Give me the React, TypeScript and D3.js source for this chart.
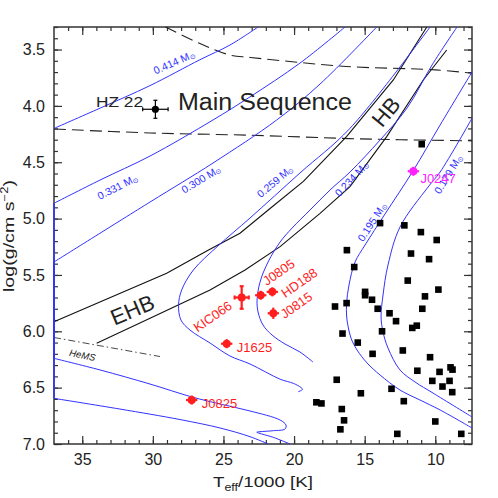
import React, { useEffect, useRef } from 'react';
import * as d3 from 'd3';

type Pt = [number, number];

// axis ranges, Teff/1000 runs backwards
const teffRange: [number, number] = [37, 7.4];
const loggRange: [number, number] = [3.3, 7.0];
const teffTicks = [35, 30, 25, 20, 15, 10];
const loggTicks = [3.5, 4.0, 4.5, 5.0, 5.5, 6.0, 6.5, 7.0];

// main sequence band borders (dashed)
const msTop: Pt[] = [[29.1, 3.3], [26.7, 3.445], [24.5, 3.55], [23.1, 3.57], [16.3, 3.65], [10.0, 3.68], [7.4, 3.71]];
const msBottom: Pt[] = [[37, 4.205], [30.2, 4.24], [23.2, 4.26], [16.1, 4.29], [12.5, 4.3], [7.4, 4.31]];

// zero-age and terminal-age horizontal branch
const zahb: Pt[] = [[37, 5.915], [29.02, 5.485], [26.09, 5.28], [23.83, 5.13], [21.7, 4.91], [19.34, 4.67], [16.27, 4.27], [12.97, 3.77], [10.6, 3.3]];
const tahb: Pt[] = [[33.98, 6.107], [30.2, 5.885], [25.95, 5.633], [23.47, 5.456], [20.99, 5.249], [18.16, 4.953], [16.04, 4.717], [13.44, 4.273], [10.85, 3.77], [9.19, 3.504]];
const heMainSeq: Pt[] = [[37, 6.055], [29.49, 6.224]];

// He-WD tracks, split into pieces where they run along the left border
const track414: Pt[][] = [
  [[37, 4.2], [33.74, 4.02], [30.2, 3.82], [26.66, 3.59], [24.54, 3.46], [22.55, 3.3]],
];
const track331: Pt[][] = [
  [[16.39, 3.3], [19.58, 3.62], [23.12, 3.92], [25.74, 4.125], [30.2, 4.445], [33.74, 4.658], [37, 4.864]],
  [[37, 4.864], [37, 6.595]],
  [[37, 6.595], [32.33, 6.69], [28.08, 6.783], [25.24, 6.858], [23.12, 6.935], [21.84, 7.0]],
];
const track300: Pt[][] = [
  [[14.15, 3.3], [18.16, 3.806], [21.23, 4.125], [25.74, 4.507], [30.2, 4.853], [37, 5.385]],
  [[37, 5.385], [37, 6.24]],
  [[37, 6.24], [33.74, 6.343], [30.2, 6.468], [27.23, 6.583], [25.24, 6.645], [23.12, 6.707], [20.99, 6.787],
    [20.57, 6.832], [20.64, 6.867], [21.47, 6.882], [22.41, 6.891], [22.64, 6.896], [22.29, 6.911], [21.47, 6.941], [20.29, 7.0]],
];
const track259: Pt[][] = [
  [[10.37, 3.3], [16.04, 4.199], [19.58, 4.595], [23.12, 4.995], [25.39, 5.243], [27.13, 5.456], [27.96, 5.634],
    [28.18, 5.767], [28.01, 5.9], [27.37, 5.989], [25.95, 6.104], [24.54, 6.219], [23.12, 6.29], [20.99, 6.425],
    [20.05, 6.462], [19.5, 6.5], [19.4, 6.515], [19.7, 6.536]],
];
const track234: Pt[][] = [
  [[8.46, 3.3], [10.23, 3.637], [12.0, 4.019], [13.91, 4.303], [16.04, 4.587], [17.45, 4.746], [18.87, 4.924],
    [20.14, 5.084], [20.99, 5.208], [21.84, 5.385], [22.41, 5.563], [22.62, 5.722], [22.55, 5.829], [22.2, 5.944],
    [21.56, 6.033], [20.64, 6.113], [19.58, 6.184], [18.66, 6.273]],
];
const track195: Pt[][] = [
  [[7.4, 3.699], [9.66, 4.17], [11.58, 4.578], [13.56, 4.959], [14.97, 5.234], [15.68, 5.385], [16.11, 5.589],
    [16.28, 5.749], [16.28, 5.864], [16.18, 5.953], [15.97, 6.06], [15.54, 6.166], [14.83, 6.281], [13.91, 6.388],
    [12.5, 6.521], [11.08, 6.61], [9.66, 6.698], [7.4, 6.858]],
];
const track179: Pt[][] = [
  [[7.4, 4.11], [9.66, 4.587], [10.51, 4.72], [12.5, 5.075], [13.35, 5.412], [13.7, 5.678], [13.84, 5.873],
    [13.7, 6.006], [13.35, 6.148], [12.5, 6.343], [11.43, 6.45], [10.16, 6.548], [7.4, 6.76]],
];
const tracks = [track414, track331, track300, track259, track234, track195, track179];
const trackMasses = ['0.414', '0.331', '0.300', '0.259', '0.234', '0.195', '0.179'];

// sdB comparison sample (Teff/1000, log g)
const sdbStars: Pt[] = [
  [10.96, 4.34], [13.91, 5.04], [12.19, 5.06], [11.02, 5.12], [9.9, 5.19], [16.26, 5.28], [11.72, 5.31], [10.44, 5.36],
  [15.74, 5.43], [11.95, 5.55], [9.78, 5.63], [14.97, 5.65], [14.97, 5.68], [10.73, 5.69], [14.48, 5.72], [16.28, 5.75],
  [17.1, 5.78], [14.08, 5.8], [10.92, 5.8], [13.24, 5.84], [12.78, 5.91], [11.63, 5.97], [11.31, 5.95], [13.77, 6.0],
  [16.57, 6.02], [15.49, 6.1], [12.3, 6.17], [14.44, 6.2], [10.37, 6.23], [8.92, 6.32], [8.78, 6.34], [11.27, 6.35],
  [9.7, 6.36], [10.21, 6.44], [8.99, 6.44], [16.98, 6.43], [9.49, 6.49], [13.1, 6.51], [8.8, 6.54], [15.27, 6.55],
  [12.23, 6.62], [18.42, 6.63], [18.06, 6.64], [16.62, 6.69], [10.0, 6.8], [16.46, 6.79], [16.72, 6.87], [12.69, 6.91],
  [8.16, 6.91],
];

// programme stars
const starNames = ['J0825', 'J1625', 'KIC066', 'J0805', 'HD188', 'J0815'];
const starTeff = [27.25, 24.77, 23.71, 22.36, 21.54, 21.47];
const starLogg = [6.61, 6.11, 5.7, 5.68, 5.65, 5.84];
const starErrTeff = [0.4, 0.4, 0.5, 0.4, 0.4, 0.4];
const starErrLogg = [0.04, 0.04, 0.1, 0.04, 0.04, 0.05];

const j0247 = { name: 'J0247', teff: 11.55, logg: 4.58, errTeff: 0.4, errLogg: 0.04 };
const hz22 = { name: 'HZ 22', teff: 29.82, logg: 4.03, errTeff: 0.9, errLogg: 0.08 };

// where the labels go (pixel offsets / rotations)
const starLabel: Record<string, { dx: number; dy: number; rot: number; anchor: string }> = {
  J0825: { dx: 10, dy: 8, rot: 0, anchor: 'start' },
  J1625: { dx: 10, dy: 8, rot: 0, anchor: 'start' },
  KIC066: { dx: -29, dy: 19, rot: -35, anchor: 'middle' },
  J0805: { dx: 18, dy: -23, rot: -35, anchor: 'middle' },
  HD188: { dx: 27, dy: -9, rot: -35, anchor: 'middle' },
  J0815: { dx: 23, dy: -8, rot: -35, anchor: 'middle' },
};
const trackLabelAt: Pt[] = [[28.5, 3.61], [32.5, 4.715], [26.59, 4.649], [21.35, 4.666], [15.93, 4.644], [14.5, 5.028], [9.1, 4.604]];
const trackLabelRot = [-24, -27, -31, -40, -47, -57, -59];

const FONT = 'Liberation Sans, Arial, sans-serif';
const BLUE = '#3232ff';
const RED = '#ff1e1e';
const MAGENTA = '#ff22ff';

export default function App() {
  const ref = useRef<SVGSVGElement>(null);

  useEffect(() => {
    const svg = d3.select(ref.current);
    svg.selectAll('*').remove();

    const left = 54, right = 472, top = 27, bottom = 444;
    const x = d3.scaleLinear().domain(teffRange).range([left, right]);
    const y = d3.scaleLinear().domain(loggRange).range([top, bottom]);

    svg.append('defs').append('clipPath').attr('id', 'plotArea')
      .append('rect')
      .attr('x', left - 1).attr('y', top - 1)
      .attr('width', right - left + 2).attr('height', bottom - top + 2);

    // axes: major + minor ticks on all four sides, pointing inwards
    const styleAxis = (g: any) => {
      g.select('.domain').remove();
      g.selectAll('line').attr('stroke', '#333').attr('stroke-width', 1.2);
      g.selectAll('text').attr('font-size', 16).attr('font-family', FONT).attr('fill', '#222');
    };
    const teffMinor = d3.range(8, 37, 1);
    const loggMinor = d3.range(33, 71, 1).map(v => v / 10);

    svg.append('g').attr('transform', `translate(0,${bottom})`)
      .call(d3.axisBottom(x).tickValues(teffTicks).tickSize(-8).tickPadding(10).tickFormat(d3.format('d')) as any)
      .call(styleAxis);
    svg.append('g').attr('transform', `translate(0,${bottom})`)
      .call(d3.axisBottom(x).tickValues(teffMinor).tickSize(-4).tickFormat(() => '') as any)
      .call(styleAxis);
    svg.append('g').attr('transform', `translate(0,${top})`)
      .call(d3.axisTop(x).tickValues(teffTicks).tickSize(-8).tickFormat(() => '') as any)
      .call(styleAxis);
    svg.append('g').attr('transform', `translate(0,${top})`)
      .call(d3.axisTop(x).tickValues(teffMinor).tickSize(-4).tickFormat(() => '') as any)
      .call(styleAxis);
    svg.append('g').attr('transform', `translate(${left},0)`)
      .call(d3.axisLeft(y).tickValues(loggTicks).tickSize(-8).tickPadding(9).tickFormat(d3.format('.1f')) as any)
      .call(styleAxis);
    svg.append('g').attr('transform', `translate(${left},0)`)
      .call(d3.axisLeft(y).tickValues(loggMinor).tickSize(-4).tickFormat(() => '') as any)
      .call(styleAxis);
    svg.append('g').attr('transform', `translate(${right},0)`)
      .call(d3.axisRight(y).tickValues(loggTicks).tickSize(-8).tickFormat(() => '') as any)
      .call(styleAxis);
    svg.append('g').attr('transform', `translate(${right},0)`)
      .call(d3.axisRight(y).tickValues(loggMinor).tickSize(-4).tickFormat(() => '') as any)
      .call(styleAxis);

    svg.append('rect')
      .attr('x', left).attr('y', top)
      .attr('width', right - left).attr('height', bottom - top)
      .attr('fill', 'none').attr('stroke', '#333').attr('stroke-width', 1.5);

    // axis titles
    const xt = svg.append('text')
      .attr('x', 263).attr('y', 487)
      .attr('text-anchor', 'middle')
      .attr('font-family', FONT).attr('font-size', 15).attr('fill', '#222')
      .attr('textLength', 100).attr('lengthAdjust', 'spacingAndGlyphs');
    xt.append('tspan').text('T');
    xt.append('tspan').attr('font-size', 10).attr('dy', 4).text('eff');
    xt.append('tspan').attr('dy', -4).text('/1000 [K]');

    const yt = svg.append('text')
      .attr('transform', 'translate(14,236) rotate(-90)')
      .attr('text-anchor', 'middle')
      .attr('font-family', FONT).attr('font-size', 15).attr('fill', '#222')
      .attr('textLength', 112).attr('lengthAdjust', 'spacingAndGlyphs');
    yt.append('tspan').text('log(g/cm s');
    yt.append('tspan').attr('font-size', 10).attr('dy', -6).text('\u22122');
    yt.append('tspan').attr('dy', 6).text(')');

    const plot = svg.append('g').attr('clip-path', 'url(#plotArea)');
    const line = d3.line<Pt>().x(d => x(d[0])).y(d => y(d[1]));
    const smooth = d3.line<Pt>().x(d => x(d[0])).y(d => y(d[1])).curve(d3.curveCatmullRom.alpha(0.5));

    // main sequence band
    [msTop, msBottom].forEach(p => {
      plot.append('path').attr('d', smooth(p)).attr('fill', 'none')
        .attr('stroke', '#222').attr('stroke-width', 1.1).attr('stroke-dasharray', '12,6');
    });
    plot.append('path').attr('d', line(heMainSeq)).attr('fill', 'none')
      .attr('stroke', '#333').attr('stroke-width', 0.9).attr('stroke-dasharray', '7,3,1.5,3');

    // horizontal branch
    [zahb, tahb].forEach(p => {
      plot.append('path').attr('d', line(p)).attr('fill', 'none')
        .attr('stroke', '#111').attr('stroke-width', 1.1);
    });

    // tracks
    tracks.forEach(pieces => {
      pieces.forEach(p => {
        const onEdge = p.length === 2 && p[0][0] === p[1][0];
        svg.append('path').attr('d', (onEdge ? line : smooth)(p)).attr('fill', 'none')
          .attr('clip-path', onEdge ? null : 'url(#plotArea)')
          .attr('stroke', BLUE).attr('stroke-width', onEdge ? 1.5 : 1);
      });
    });
    trackMasses.forEach((m, i) => {
      const [t, g] = trackLabelAt[i];
      const txt = svg.append('text')
        .attr('transform', `translate(${x(t)},${y(g)}) rotate(${trackLabelRot[i]})`)
        .attr('text-anchor', 'middle').attr('dominant-baseline', 'central')
        .attr('font-family', FONT).attr('font-size', 10.5).attr('fill', BLUE);
      txt.append('tspan').text(`${m} M`);
      txt.append('tspan').attr('font-size', 7).attr('dy', 2).text('\u2299');
    });

    // big labels
    svg.append('text').attr('x', 178).attr('y', 110)
      .attr('font-family', FONT).attr('font-size', 23).attr('fill', '#222')
      .attr('textLength', 174).attr('lengthAdjust', 'spacingAndGlyphs')
      .text('Main Sequence');
    svg.append('text').attr('transform', 'translate(132.5,310) rotate(-23)')
      .attr('text-anchor', 'middle').attr('dominant-baseline', 'central')
      .attr('font-family', FONT).attr('font-size', 22).attr('fill', '#222').text('EHB');
    svg.append('text').attr('transform', 'translate(386,112) rotate(-50)')
      .attr('text-anchor', 'middle').attr('dominant-baseline', 'central')
      .attr('font-family', FONT).attr('font-size', 22).attr('fill', '#222').text('HB');
    svg.append('text').attr('transform', 'translate(82.5,355) rotate(12)')
      .attr('text-anchor', 'middle').attr('dominant-baseline', 'central')
      .attr('font-family', FONT).attr('font-size', 9.5).attr('font-style', 'italic').attr('fill', '#222').text('HeMS');

    // sdB sample
    svg.append('g').selectAll('rect').data(sdbStars).enter().append('rect')
      .attr('x', d => x(d[0]) - 3.3).attr('y', d => y(d[1]) - 3.3)
      .attr('width', 6.6).attr('height', 6.6).attr('fill', '#000');

    // a star with error cross
    const drawStar = (t: number, g: number, et: number, eg: number, color: string, r: number, w: number, caps: boolean) => {
      const gg = svg.append('g');
      gg.append('line').attr('x1', x(t - et)).attr('x2', x(t + et)).attr('y1', y(g)).attr('y2', y(g))
        .attr('stroke', color).attr('stroke-width', w);
      gg.append('line').attr('x1', x(t)).attr('x2', x(t)).attr('y1', y(g - eg)).attr('y2', y(g + eg))
        .attr('stroke', color).attr('stroke-width', w);
      if (caps) {
        gg.append('line').attr('x1', x(t - et)).attr('x2', x(t - et)).attr('y1', y(g) - 2).attr('y2', y(g) + 2)
          .attr('stroke', color).attr('stroke-width', w);
        gg.append('line').attr('x1', x(t + et)).attr('x2', x(t + et)).attr('y1', y(g) - 2).attr('y2', y(g) + 2)
          .attr('stroke', color).attr('stroke-width', w);
        gg.append('line').attr('x1', x(t) - 2).attr('x2', x(t) + 2).attr('y1', y(g - eg)).attr('y2', y(g - eg))
          .attr('stroke', color).attr('stroke-width', w);
        gg.append('line').attr('x1', x(t) - 2).attr('x2', x(t) + 2).attr('y1', y(g + eg)).attr('y2', y(g + eg))
          .attr('stroke', color).attr('stroke-width', w);
      }
      gg.append('circle').attr('cx', x(t)).attr('cy', y(g)).attr('r', r).attr('fill', color);
    };

    drawStar(hz22.teff, hz22.logg, hz22.errTeff, hz22.errLogg, '#000', 3.6, 1.2, true);
    svg.append('text').attr('x', 143).attr('y', 107).attr('text-anchor', 'end')
      .attr('font-family', FONT).attr('font-size', 14).attr('fill', '#222')
      .attr('textLength', 47).attr('lengthAdjust', 'spacingAndGlyphs').text(hz22.name);

    starNames.forEach((name, i) => {
      drawStar(starTeff[i], starLogg[i], starErrTeff[i], starErrLogg[i], RED, 4, 2.2, i === 2);
      const lp = starLabel[name];
      svg.append('text')
        .attr('transform', `translate(${x(starTeff[i]) + lp.dx},${y(starLogg[i]) + lp.dy}) rotate(${lp.rot})`)
        .attr('text-anchor', lp.anchor)
        .attr('dominant-baseline', lp.rot === 0 ? 'auto' : 'central')
        .attr('font-family', FONT).attr('font-size', 13).attr('fill', RED).text(name);
    });

    drawStar(j0247.teff, j0247.logg, j0247.errTeff, j0247.errLogg, MAGENTA, 4, 2.2, false);
    svg.append('text').attr('x', x(j0247.teff) + 7).attr('y', y(j0247.logg) + 12)
      .attr('font-family', FONT).attr('font-size', 13).attr('fill', MAGENTA).text(j0247.name);
  }, []);

  return (
    <svg ref={ref} width={498} height={498}
      style={{ position: 'absolute', left: 0, top: 0, background: '#fff' }} />
  );
}
